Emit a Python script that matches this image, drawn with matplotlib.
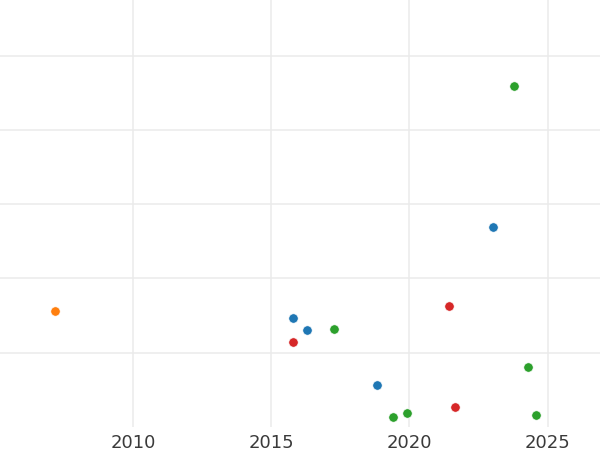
import matplotlib
matplotlib.use("Agg")
import matplotlib.pyplot as plt

blue_x = [2015.77, 2016.30, 2018.81, 2023.03]
blue_y = [1.468, 1.302, 0.566, 2.690]
orange_x = [2007.165]
orange_y = [1.566]
green_x = [2017.27, 2019.41, 2019.91, 2023.78, 2024.28, 2024.58]
green_y = [1.324, 0.135, 0.193, 4.597, 0.812, 0.158]
red_x = [2015.79, 2021.42, 2021.66]
red_y = [1.149, 1.634, 0.273]

xticks = [2010, 2015, 2020, 2025]
yticks = [1, 2, 3, 4, 5]

fig = plt.figure(figsize=(6, 4.5), dpi=100)
ax = fig.add_axes([0, 23/450, 1, 427/450])

for xs, ys, c in [(blue_x, blue_y, "#1f77b4"), (orange_x, orange_y, "#ff7f0e"),
                  (green_x, green_y, "#2ca02c"), (red_x, red_y, "#d62728")]:
    ax.scatter(xs, ys, s=45, color=c, edgecolor="white", linewidth=0.4, zorder=3)

ax.set_xlim(2005.174, 2026.898)
ax.set_ylim(0, 5.75)
ax.set_xticks(xticks)
ax.set_xticklabels([str(t) for t in xticks])
ax.set_yticks(yticks)
ax.set_yticklabels([])
ax.tick_params(axis="both", length=0, pad=5, labelsize=13, labelcolor="#3a3a3a")
ax.grid(True, color="#ebebeb", linewidth=1.1, zorder=0)
for s in ax.spines.values():
    s.set_visible(False)
ax.set_facecolor("white")

fig.savefig("out.png", dpi=100)
